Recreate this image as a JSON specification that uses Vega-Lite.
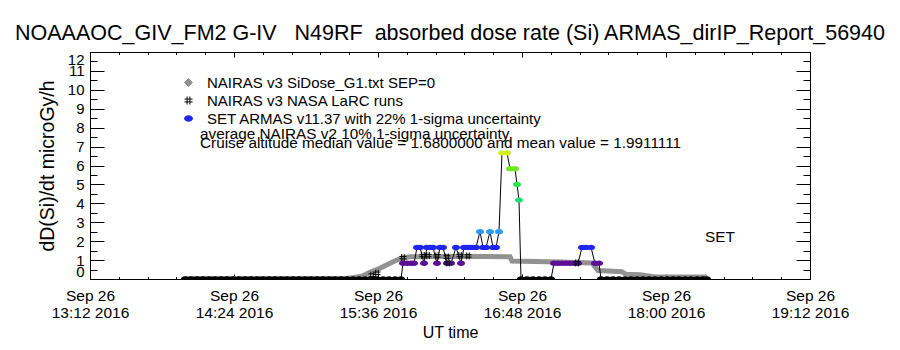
{
  "$schema": "https://vega.github.io/schema/vega-lite/v6.json",
  "width": 720,
  "height": 227,
  "autosize": {"type": "none"},
  "padding": {"left": 90, "top": 52, "right": 90, "bottom": 71},
  "background": "white",
  "title": {
    "text": "NOAAAOC_GIV_FM2 G-IV\u00a0\u00a0\u00a0N49RF\u00a0\u00a0absorbed dose rate (Si) ARMAS_dirIP_Report_56940",
    "font": "Liberation Sans",
    "fontSize": 21.5,
    "fontWeight": "normal",
    "color": "#000",
    "anchor": "middle",
    "offset": 7
  },
  "datasets": {
    "nairas": [
      {"t": "2016-09-26T13:59:30Z", "v": 0.02},
      {"t": "2016-09-26T15:20:00Z", "v": 0.03},
      {"t": "2016-09-26T15:24:00Z", "v": 0.08},
      {"t": "2016-09-26T15:28:00Z", "v": 0.15},
      {"t": "2016-09-26T15:32:00Z", "v": 0.35},
      {"t": "2016-09-26T15:37:00Z", "v": 0.57},
      {"t": "2016-09-26T15:42:00Z", "v": 0.83},
      {"t": "2016-09-26T15:47:00Z", "v": 1.08},
      {"t": "2016-09-26T15:52:00Z", "v": 1.17},
      {"t": "2016-09-26T16:10:00Z", "v": 1.19},
      {"t": "2016-09-26T16:30:00Z", "v": 1.19},
      {"t": "2016-09-26T16:42:00Z", "v": 1.18},
      {"t": "2016-09-26T16:43:00Z", "v": 0.95},
      {"t": "2016-09-26T17:07:00Z", "v": 0.9},
      {"t": "2016-09-26T17:23:00Z", "v": 0.85},
      {"t": "2016-09-26T17:26:00Z", "v": 0.45},
      {"t": "2016-09-26T17:38:00Z", "v": 0.38},
      {"t": "2016-09-26T17:40:00Z", "v": 0.25},
      {"t": "2016-09-26T17:47:00Z", "v": 0.22},
      {"t": "2016-09-26T17:54:00Z", "v": 0.12},
      {"t": "2016-09-26T18:20:30Z", "v": 0.1}
    ],
    "armas": [
      {"t": "2016-09-26T13:59:30Z", "dose": 0},
      {"t": "2016-09-26T14:02:30Z", "dose": 0},
      {"t": "2016-09-26T14:05:30Z", "dose": 0},
      {"t": "2016-09-26T14:08:30Z", "dose": 0},
      {"t": "2016-09-26T14:11:30Z", "dose": 0},
      {"t": "2016-09-26T14:14:30Z", "dose": 0},
      {"t": "2016-09-26T14:17:30Z", "dose": 0},
      {"t": "2016-09-26T14:20:30Z", "dose": 0},
      {"t": "2016-09-26T14:23:30Z", "dose": 0},
      {"t": "2016-09-26T14:26:30Z", "dose": 0},
      {"t": "2016-09-26T14:29:30Z", "dose": 0},
      {"t": "2016-09-26T14:32:30Z", "dose": 0},
      {"t": "2016-09-26T14:35:30Z", "dose": 0},
      {"t": "2016-09-26T14:38:30Z", "dose": 0},
      {"t": "2016-09-26T14:41:30Z", "dose": 0},
      {"t": "2016-09-26T14:44:30Z", "dose": 0},
      {"t": "2016-09-26T14:47:30Z", "dose": 0},
      {"t": "2016-09-26T14:50:30Z", "dose": 0},
      {"t": "2016-09-26T14:53:30Z", "dose": 0},
      {"t": "2016-09-26T14:56:30Z", "dose": 0},
      {"t": "2016-09-26T14:59:30Z", "dose": 0},
      {"t": "2016-09-26T15:02:30Z", "dose": 0},
      {"t": "2016-09-26T15:05:30Z", "dose": 0},
      {"t": "2016-09-26T15:08:30Z", "dose": 0},
      {"t": "2016-09-26T15:11:30Z", "dose": 0},
      {"t": "2016-09-26T15:14:30Z", "dose": 0},
      {"t": "2016-09-26T15:17:30Z", "dose": 0},
      {"t": "2016-09-26T15:20:30Z", "dose": 0},
      {"t": "2016-09-26T15:23:30Z", "dose": 0},
      {"t": "2016-09-26T15:26:30Z", "dose": 0},
      {"t": "2016-09-26T15:29:30Z", "dose": 0},
      {"t": "2016-09-26T15:32:30Z", "dose": 0},
      {"t": "2016-09-26T15:35:30Z", "dose": 0},
      {"t": "2016-09-26T15:38:30Z", "dose": 0},
      {"t": "2016-09-26T15:41:30Z", "dose": 0},
      {"t": "2016-09-26T15:44:30Z", "dose": 0},
      {"t": "2016-09-26T15:47:30Z", "dose": 0},
      {"t": "2016-09-26T15:48:30Z", "dose": 0.83},
      {"t": "2016-09-26T15:50:30Z", "dose": 0.83},
      {"t": "2016-09-26T15:52:30Z", "dose": 0.83},
      {"t": "2016-09-26T15:54:00Z", "dose": 0.83},
      {"t": "2016-09-26T15:55:30Z", "dose": 1.67},
      {"t": "2016-09-26T15:57:00Z", "dose": 1.67},
      {"t": "2016-09-26T15:59:00Z", "dose": 0.83},
      {"t": "2016-09-26T16:00:30Z", "dose": 1.67},
      {"t": "2016-09-26T16:02:00Z", "dose": 1.67},
      {"t": "2016-09-26T16:03:30Z", "dose": 1.67},
      {"t": "2016-09-26T16:05:30Z", "dose": 0.83},
      {"t": "2016-09-26T16:07:00Z", "dose": 1.67},
      {"t": "2016-09-26T16:08:30Z", "dose": 1.67},
      {"t": "2016-09-26T16:10:30Z", "dose": 0.83},
      {"t": "2016-09-26T16:12:30Z", "dose": 0.83},
      {"t": "2016-09-26T16:15:00Z", "dose": 1.67},
      {"t": "2016-09-26T16:17:30Z", "dose": 0.83},
      {"t": "2016-09-26T16:19:00Z", "dose": 1.67},
      {"t": "2016-09-26T16:20:30Z", "dose": 1.67},
      {"t": "2016-09-26T16:22:00Z", "dose": 1.67},
      {"t": "2016-09-26T16:23:30Z", "dose": 1.67},
      {"t": "2016-09-26T16:25:00Z", "dose": 1.67},
      {"t": "2016-09-26T16:27:00Z", "dose": 2.5},
      {"t": "2016-09-26T16:28:30Z", "dose": 1.67},
      {"t": "2016-09-26T16:30:00Z", "dose": 1.67},
      {"t": "2016-09-26T16:32:00Z", "dose": 2.5},
      {"t": "2016-09-26T16:33:30Z", "dose": 1.67},
      {"t": "2016-09-26T16:35:00Z", "dose": 1.67},
      {"t": "2016-09-26T16:36:30Z", "dose": 2.5},
      {"t": "2016-09-26T16:38:00Z", "dose": 6.67},
      {"t": "2016-09-26T16:40:30Z", "dose": 6.67},
      {"t": "2016-09-26T16:42:00Z", "dose": 5.83},
      {"t": "2016-09-26T16:44:30Z", "dose": 5.83},
      {"t": "2016-09-26T16:45:30Z", "dose": 5.0},
      {"t": "2016-09-26T16:46:30Z", "dose": 4.17},
      {"t": "2016-09-26T16:47:30Z", "dose": 0},
      {"t": "2016-09-26T16:50:30Z", "dose": 0},
      {"t": "2016-09-26T16:53:30Z", "dose": 0},
      {"t": "2016-09-26T16:56:30Z", "dose": 0},
      {"t": "2016-09-26T16:59:30Z", "dose": 0},
      {"t": "2016-09-26T17:02:30Z", "dose": 0},
      {"t": "2016-09-26T17:04:00Z", "dose": 0.83},
      {"t": "2016-09-26T17:06:00Z", "dose": 0.83},
      {"t": "2016-09-26T17:08:00Z", "dose": 0.83},
      {"t": "2016-09-26T17:10:00Z", "dose": 0.83},
      {"t": "2016-09-26T17:12:00Z", "dose": 0.83},
      {"t": "2016-09-26T17:14:00Z", "dose": 0.83},
      {"t": "2016-09-26T17:16:00Z", "dose": 0.83},
      {"t": "2016-09-26T17:18:00Z", "dose": 1.67},
      {"t": "2016-09-26T17:20:00Z", "dose": 1.67},
      {"t": "2016-09-26T17:22:30Z", "dose": 1.67},
      {"t": "2016-09-26T17:24:30Z", "dose": 0.83},
      {"t": "2016-09-26T17:26:30Z", "dose": 0.83},
      {"t": "2016-09-26T17:27:30Z", "dose": 0},
      {"t": "2016-09-26T17:30:30Z", "dose": 0},
      {"t": "2016-09-26T17:33:30Z", "dose": 0},
      {"t": "2016-09-26T17:36:30Z", "dose": 0},
      {"t": "2016-09-26T17:39:30Z", "dose": 0},
      {"t": "2016-09-26T17:42:30Z", "dose": 0},
      {"t": "2016-09-26T17:45:30Z", "dose": 0},
      {"t": "2016-09-26T17:48:30Z", "dose": 0},
      {"t": "2016-09-26T17:51:30Z", "dose": 0},
      {"t": "2016-09-26T17:54:30Z", "dose": 0},
      {"t": "2016-09-26T17:57:30Z", "dose": 0},
      {"t": "2016-09-26T18:00:30Z", "dose": 0},
      {"t": "2016-09-26T18:03:30Z", "dose": 0},
      {"t": "2016-09-26T18:06:30Z", "dose": 0},
      {"t": "2016-09-26T18:09:30Z", "dose": 0},
      {"t": "2016-09-26T18:12:30Z", "dose": 0},
      {"t": "2016-09-26T18:15:30Z", "dose": 0},
      {"t": "2016-09-26T18:18:30Z", "dose": 0},
      {"t": "2016-09-26T18:20:30Z", "dose": 0}
    ],
    "larc": [
      {"t": "2016-09-26T15:33:00Z", "v": 0.2, "series": "NAIRAS v3 NASA LaRC runs"},
      {"t": "2016-09-26T15:35:30Z", "v": 0.3, "series": "NAIRAS v3 NASA LaRC runs"},
      {"t": "2016-09-26T15:48:30Z", "v": 1.13, "series": "NAIRAS v3 NASA LaRC runs"},
      {"t": "2016-09-26T15:58:30Z", "v": 1.24, "series": "NAIRAS v3 NASA LaRC runs"},
      {"t": "2016-09-26T16:01:00Z", "v": 1.24, "series": "NAIRAS v3 NASA LaRC runs"},
      {"t": "2016-09-26T16:05:30Z", "v": 1.22, "series": "NAIRAS v3 NASA LaRC runs"},
      {"t": "2016-09-26T16:10:30Z", "v": 1.16, "series": "NAIRAS v3 NASA LaRC runs"},
      {"t": "2016-09-26T16:11:00Z", "v": 0.85, "series": "NAIRAS v3 NASA LaRC runs"},
      {"t": "2016-09-26T16:17:00Z", "v": 1.24, "series": "NAIRAS v3 NASA LaRC runs"},
      {"t": "2016-09-26T16:21:00Z", "v": 1.22, "series": "NAIRAS v3 NASA LaRC runs"},
      {"t": "2016-09-26T17:15:30Z", "v": 0.85, "series": "NAIRAS v3 NASA LaRC runs"}
    ],
    "notes": [
      {"t": "2016-09-26T14:07:00Z", "v": 7.68, "label": "average NAIRAS v2 10% 1-sigma uncertainty"},
      {"t": "2016-09-26T14:07:00Z", "v": 7.17, "label": "Cruise altitude median value = 1.6800000 and mean value = 1.9911111"},
      {"t": "2016-09-26T18:19:30Z", "v": 2.22, "label": "SET"}
    ]
  },
  "layer": [
    {
      "data": {"name": "nairas"},
      "mark": {"type": "line", "color": "#929292", "strokeWidth": 5, "clip": true},
      "encoding": {
        "x": {
          "field": "t", "type": "temporal",
          "scale": {"type": "utc", "domain": [{"year": 2016, "month": 9, "date": 26, "hours": 13, "minutes": 12, "utc": true}, {"year": 2016, "month": 9, "date": 26, "hours": 19, "minutes": 12, "utc": true}]},
          "axis": {
            "orient": "bottom",
            "values": [1474895520000, 1474899840000, 1474904160000, 1474908480000, 1474912800000, 1474917120000],
            "tickSize": -5,
            "labelPadding": 14,
            "labelExpr": "[utcFormat(datum.value, '%b %d'), utcFormat(datum.value, '%H:%M %Y')]",
            "labelFontSize": 15.5,
            "labelLineHeight": 17,
            "labelFlush": false,
            "labelOverlap": false,
            "title": "UT time",
            "titleFontSize": 16,
            "titlePadding": 4
          }
        },
        "y": {
          "field": "v", "type": "quantitative",
          "scale": {"domain": [0, 12], "nice": false, "zero": true},
          "axis": {
            "orient": "left",
            "values": [0, 1, 2, 3, 4, 5, 6, 7, 8, 9, 10, 11, 12],
            "tickSize": -14,
            "labelPadding": 20,
            "labelFontSize": 15,
            "labelFlush": true,
            "labelOverlap": false,
            "title": "dD(Si)/dt microGy/h",
            "titleFontSize": 19.5,
            "titlePadding": 10
          }
        }
      }
    },
    {
      "data": {"name": "armas"},
      "mark": {"type": "line", "color": "#000", "strokeWidth": 1, "clip": true},
      "encoding": {
        "x": {
          "field": "t", "type": "temporal",
          "scale": {"type": "utc", "domain": [{"year": 2016, "month": 9, "date": 26, "hours": 13, "minutes": 12, "utc": true}, {"year": 2016, "month": 9, "date": 26, "hours": 19, "minutes": 12, "utc": true}]},
          "axis": {
            "orient": "bottom",
            "values": [1474895520000, 1474896384000, 1474897248000, 1474898112000, 1474898976000, 1474899840000, 1474900704000, 1474901568000, 1474902432000, 1474903296000, 1474904160000, 1474905024000, 1474905888000, 1474906752000, 1474907616000, 1474908480000, 1474909344000, 1474910208000, 1474911072000, 1474911936000, 1474912800000, 1474913664000, 1474914528000, 1474915392000, 1474916256000, 1474917120000],
            "tickSize": -2.5,
            "labels": false,
            "title": null
          }
        },
        "y": {
          "field": "dose", "type": "quantitative",
          "scale": {"domain": [0, 12], "nice": false},
          "axis": {
            "orient": "left",
            "values": [0.5, 1.5, 2.5, 3.5, 4.5, 5.5, 6.5, 7.5, 8.5, 9.5, 10.5, 11.5],
            "tickSize": -7,
            "labels": false,
            "title": null
          }
        }
      }
    },
    {
      "data": {"name": "armas"},
      "mark": {"type": "point", "filled": true, "opacity": 1, "size": 64, "shape": "M-1,0C-1,-0.9,1,-0.9,1,0C1,0.9,-1,0.9,-1,0Z", "clip": true},
      "encoding": {
        "x": {
          "field": "t", "type": "temporal",
          "scale": {"type": "utc", "domain": [{"year": 2016, "month": 9, "date": 26, "hours": 13, "minutes": 12, "utc": true}, {"year": 2016, "month": 9, "date": 26, "hours": 19, "minutes": 12, "utc": true}]},
          "axis": {
            "orient": "top",
            "values": [1474895520000, 1474899840000, 1474904160000, 1474908480000, 1474912800000, 1474917120000],
            "tickSize": -5,
            "labels": false,
            "title": null
          }
        },
        "y": {
          "field": "dose", "type": "quantitative",
          "scale": {"domain": [0, 12], "nice": false},
          "axis": {
            "orient": "right",
            "values": [0, 1, 2, 3, 4, 5, 6, 7, 8, 9, 10, 11, 12],
            "tickSize": -14,
            "labels": false,
            "title": null
          }
        },
        "color": {
          "field": "dose", "type": "quantitative",
          "scale": {"type": "linear", "domain": [0, 0.83, 1.67, 2.5, 4.17, 5, 5.83, 6.67], "range": ["#000000", "#5c0f96", "#1f24ee", "#2b9af0", "#1fdc78", "#27e84e", "#6ee81f", "#d2ec1c"], "interpolate": "rgb"},
          "legend": null
        }
      }
    },
    {
      "data": {"name": "larc"},
      "mark": {"type": "point", "filled": true, "opacity": 1, "size": 50, "strokeWidth": 1, "clip": true},
      "encoding": {
        "x": {
          "field": "t", "type": "temporal",
          "scale": {"type": "utc", "domain": [{"year": 2016, "month": 9, "date": 26, "hours": 13, "minutes": 12, "utc": true}, {"year": 2016, "month": 9, "date": 26, "hours": 19, "minutes": 12, "utc": true}]},
          "axis": {
            "orient": "top",
            "values": [1474895520000, 1474896384000, 1474897248000, 1474898112000, 1474898976000, 1474899840000, 1474900704000, 1474901568000, 1474902432000, 1474903296000, 1474904160000, 1474905024000, 1474905888000, 1474906752000, 1474907616000, 1474908480000, 1474909344000, 1474910208000, 1474911072000, 1474911936000, 1474912800000, 1474913664000, 1474914528000, 1474915392000, 1474916256000, 1474917120000],
            "tickSize": -2.5,
            "labels": false,
            "title": null
          }
        },
        "y": {
          "field": "v", "type": "quantitative",
          "scale": {"domain": [0, 12], "nice": false},
          "axis": {
            "orient": "right",
            "values": [0.5, 1.5, 2.5, 3.5, 4.5, 5.5, 6.5, 7.5, 8.5, 9.5, 10.5, 11.5],
            "tickSize": -7,
            "labels": false,
            "title": null
          }
        },
        "color": {
          "field": "series", "type": "nominal",
          "scale": {"domain": ["NAIRAS v3 SiDose_G1.txt SEP=0", "NAIRAS v3 NASA LaRC runs", "SET ARMAS v11.37 with 22% 1-sigma uncertainty"], "range": ["#929292", "#000000", "#1f24ee"]},
          "legend": {"orient": "none", "legendX": 91, "legendY": 23, "title": null, "labelFontSize": 15, "labelFont": "Liberation Sans", "labelColor": "#000", "labelLimit": 0, "symbolSize": 64, "rowPadding": 2, "labelOffset": 11, "padding": 0, "symbolStrokeWidth": 1}
        },
        "stroke": {
          "field": "series", "type": "nominal",
          "scale": {"domain": ["NAIRAS v3 SiDose_G1.txt SEP=0", "NAIRAS v3 NASA LaRC runs", "SET ARMAS v11.37 with 22% 1-sigma uncertainty"], "range": ["#929292", "#000000", "#1f24ee"]},
          "legend": {"orient": "none", "legendX": 91, "legendY": 23, "title": null, "labelFontSize": 15, "labelFont": "Liberation Sans", "labelColor": "#000", "labelLimit": 0, "symbolSize": 64, "rowPadding": 2, "labelOffset": 11, "padding": 0, "symbolStrokeWidth": 1}
        },
        "shape": {
          "field": "series", "type": "nominal",
          "scale": {"domain": ["NAIRAS v3 SiDose_G1.txt SEP=0", "NAIRAS v3 NASA LaRC runs", "SET ARMAS v11.37 with 22% 1-sigma uncertainty"], "range": ["diamond", "M-0.35,-1L-0.35,1M0.35,-1L0.35,1M-1,-0.35L1,-0.35M-1,0.35L1,0.35", "M-1,0C-1,-0.9,1,-0.9,1,0C1,0.9,-1,0.9,-1,0Z"]},
          "legend": {"orient": "none", "legendX": 91, "legendY": 23, "title": null, "labelFontSize": 15, "labelFont": "Liberation Sans", "labelColor": "#000", "labelLimit": 0, "symbolSize": 64, "rowPadding": 2, "labelOffset": 11, "padding": 0, "symbolStrokeWidth": 1}
        }
      }
    },
    {
      "data": {"name": "notes"},
      "mark": {"type": "text", "align": "left", "baseline": "middle", "font": "Liberation Sans", "fontSize": 15.3, "color": "#000"},
      "encoding": {
        "x": {"field": "t", "type": "temporal", "scale": {"type": "utc", "domain": [{"year": 2016, "month": 9, "date": 26, "hours": 13, "minutes": 12, "utc": true}, {"year": 2016, "month": 9, "date": 26, "hours": 19, "minutes": 12, "utc": true}]}, "axis": null},
        "y": {"field": "v", "type": "quantitative", "scale": {"domain": [0, 12], "nice": false}, "axis": null},
        "text": {"field": "label", "type": "nominal"}
      }
    }
  ],
  "resolve": {
    "axis": {"x": "independent", "y": "independent"},
    "scale": {"color": "independent", "stroke": "independent", "shape": "independent"}
  },
  "config": {
    "font": "Liberation Sans",
    "view": {"stroke": "#000", "strokeWidth": 1},
    "axis": {
      "domain": false,
      "grid": false,
      "tickColor": "#000",
      "tickWidth": 1,
      "labelColor": "#000",
      "titleColor": "#000",
      "labelFont": "Liberation Sans",
      "titleFont": "Liberation Sans",
      "titleFontWeight": "normal"
    }
  }
}
